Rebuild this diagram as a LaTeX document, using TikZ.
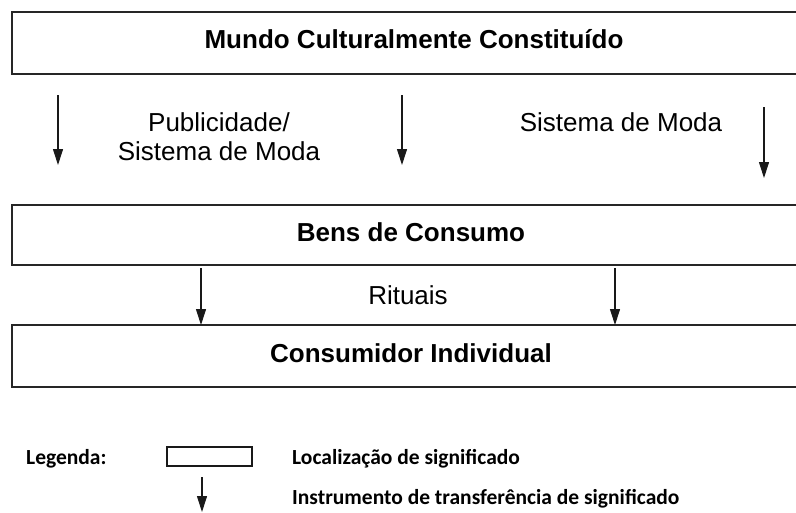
\documentclass[tikz,border=0pt]{standalone}
\usepackage{fontspec}
\setmainfont{Liberation Sans}
\newfontfamily\legfont{Carlito}
\usetikzlibrary{arrows.meta}
\tikzset{
  box/.style={draw=black!85, line width=1.6pt},
  tarrow/.style={draw=black!90, line width=1.1pt, -{Triangle[width=10pt,length=16pt]}},
  main/.style={font=\fontsize{26}{29}\selectfont, anchor=base, inner sep=0pt},
  mainb/.style={font=\fontsize{26}{30}\selectfont\bfseries, anchor=base, inner sep=0pt},
  leg/.style={font=\legfont\fontsize{21.5}{24}\selectfont\bfseries, anchor=base west, inner sep=0pt},
}
\begin{document}
\begin{tikzpicture}[x=1pt,y=-1pt]
\useasboundingbox (0,0) rectangle (796,512);
\clip (0,0) rectangle (796,512);
% boxes
\draw[box] (12,12) rectangle (820,74);
\draw[box] (12,205) rectangle (820,265);
\draw[box] (12,325) rectangle (820,387);
\node[mainb] (mundo) at (414,48) {Mundo Culturalmente Constituído};
\node[mainb] (bens) at (411,241) {Bens de Consumo};
\node[mainb] (cons) at (411,362) {Consumidor Individual};
% arrows upper
\coordinate (a1s) at (58,95);  \coordinate (a1e) at (58,165);
\coordinate (a2s) at (402,95); \coordinate (a2e) at (402,165);
\coordinate (a3s) at (764,107); \coordinate (a3e) at (764,178);
\draw[tarrow] (a1s) -- (a1e);
\draw[tarrow] (a2s) -- (a2e);
\draw[tarrow] (a3s) -- (a3e);
\node[main, align=center] (pub) at (219,160) {Publicidade/\\Sistema de Moda};
\node[main] (sis) at (621,131) {Sistema de Moda};
% arrows middle
\coordinate (b1s) at (201,268); \coordinate (b1e) at (201,325);
\coordinate (b2s) at (615,268); \coordinate (b2e) at (615,325);
\draw[tarrow] (b1s) -- (b1e);
\draw[tarrow] (b2s) -- (b2e);
\node[main] (rit) at (408,304) {Rituais};
% legend
\node[leg] (legenda) at (26,464) {Legenda:};
\draw[line width=1.4pt, draw=black!90] (167,447) rectangle (252,466);
\node[leg] (loc) at (292,464) {Localização de significado};
\coordinate (ls) at (202,477); \coordinate (le) at (202,512);
\draw[tarrow] (ls) -- (le);
\node[leg] (ins) at (292,504) {Instrumento de transferência de significado};
\end{tikzpicture}
\end{document}
